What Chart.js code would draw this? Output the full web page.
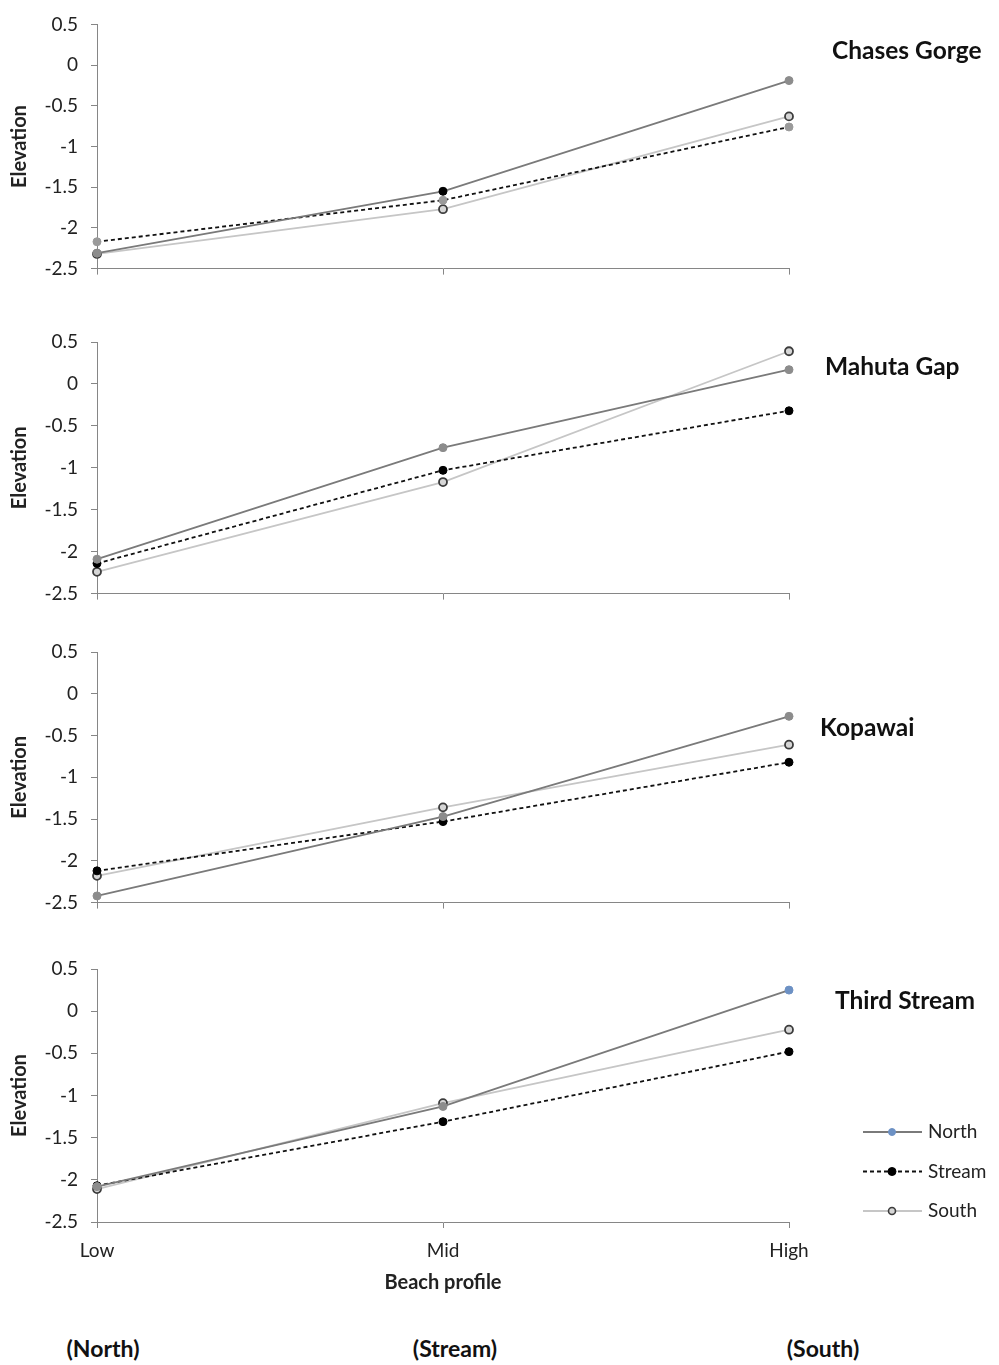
<!DOCTYPE html>
<html><head><meta charset="utf-8">
<script src="https://cdn.jsdelivr.net/npm/chart.js@4"></script>
<style>
html,body{margin:0;padding:0;background:#fff;}
body{width:999px;height:1365px;position:relative;overflow:hidden;font-family:Lato,'Open Sans',sans-serif;}
canvas{position:absolute;left:0;}
.site{position:absolute;font-weight:bold;font-size:24.5px;color:#111;white-space:nowrap;line-height:28px;}
.foot{position:absolute;font-weight:bold;font-size:23px;color:#111;white-space:nowrap;line-height:26px;transform:translateX(-50%);}
</style></head><body>
<script>
// ---------- data ----------
const categories = ['Low', 'Mid', 'High'];
const seriesNames = ['North', 'Stream', 'South'];
const siteNames = ['Chases Gorge', 'Mahuta Gap', 'Kopawai', 'Third Stream'];
const yTickLabels = ['0.5', '0', '-0.5', '-1', '-1.5', '-2', '-2.5'];
const footLabels = ['(North)', '(Stream)', '(South)'];

const chasesNorth  = [-2.31, -1.55, -0.19];
const chasesStream = [-2.17, -1.66, -0.76];
const chasesSouth  = [-2.32, -1.77, -0.63];

const mahutaNorth  = [-2.09, -0.76, 0.17];
const mahutaStream = [-2.14, -1.03, -0.32];
const mahutaSouth  = [-2.24, -1.17, 0.39];

const kopawaiNorth  = [-2.42, -1.47, -0.27];
const kopawaiStream = [-2.12, -1.53, -0.82];
const kopawaiSouth  = [-2.18, -1.36, -0.61];

const thirdNorth  = [-2.08, -1.13, 0.25];
const thirdStream = [-2.07, -1.31, -0.48];
const thirdSouth  = [-2.11, -1.09, -0.22];

const siteSeries = [
  [chasesNorth, chasesStream, chasesSouth],
  [mahutaNorth, mahutaStream, mahutaSouth],
  [kopawaiNorth, kopawaiStream, kopawaiSouth],
  [thirdNorth, thirdStream, thirdSouth]
];

// ---------- layout & style ----------
const FONT = "Lato, 'Open Sans', sans-serif";
const AXIS = '#868686';
const panels = [
  {top: 0,   padTop: 21, height: 293, titleLeft: 832, titleMid: 50},
  {top: 300, padTop: 42, height: 318, titleLeft: 825, titleMid: 366},
  {top: 620, padTop: 32, height: 307, titleLeft: 820, titleMid: 727},
  {top: 940, padTop: 29, height: 359, titleLeft: 835, titleMid: 1000}
];
const seriesStyles = [
  {borderColor: '#7a7a7a', borderDash: [], pointBackgroundColor: '#8c8c8c', pointBorderColor: '#8c8c8c', pointBorderWidth: 1},
  {borderColor: '#111111', borderDash: [4, 3], pointBackgroundColor: '#000000', pointBorderColor: '#000000', pointBorderWidth: 1},
  {borderColor: '#c6c6c6', borderDash: [], pointBackgroundColor: '#d6d6d6', pointBorderColor: '#3c3c3c', pointBorderWidth: 1.8}
];
// per-panel marker colour quirks of the original
const pointColorOverrides = [
  [['#8c8c8c', '#000000', '#8c8c8c'], ['#9a9a9a', '#9a9a9a', '#9a9a9a'], null],
  [null, null, null],
  [null, null, null],
  [['#8c8c8c', '#8c8c8c', '#6d91c4'], null, null]
];
const legendMarkerColors = ['#6d91c4', '#000000', '#d6d6d6'];

const sideLegend = {
  id: 'sideLegend',
  afterDraw(chart, args, opts) {
    if (!opts.show) return;
    const ctx = chart.ctx;
    chart.data.datasets.forEach((ds, i) => {
      const y = opts.y0 + i * opts.gap;
      ctx.save();
      ctx.strokeStyle = ds.borderColor;
      ctx.lineWidth = ds.borderWidth;
      ctx.setLineDash(ds.borderDash || []);
      ctx.beginPath(); ctx.moveTo(opts.x0, y); ctx.lineTo(opts.x1, y); ctx.stroke();
      ctx.setLineDash([]);
      ctx.beginPath(); ctx.arc(opts.mx, y, i === 1 ? 4 : 3.5, 0, Math.PI * 2);
      ctx.fillStyle = legendMarkerColors[i]; ctx.fill();
      ctx.lineWidth = i === 2 ? 1.6 : 1;
      ctx.strokeStyle = i === 0 ? legendMarkerColors[0] : seriesStyles[i].pointBorderColor;
      ctx.stroke();
      ctx.fillStyle = '#222';
      ctx.font = '19px ' + FONT;
      ctx.textBaseline = 'middle';
      ctx.textAlign = 'left';
      ctx.fillText(ds.label, opts.tx, y);
      ctx.restore();
    });
  }
};

panels.forEach((p, pi) => {
  const cv = document.createElement('canvas');
  cv.width = 999; cv.height = p.height;
  cv.style.top = p.top + 'px';
  cv.style.width = '999px'; cv.style.height = p.height + 'px';
  document.body.appendChild(cv);

  const t = document.createElement('div');
  t.className = 'site';
  t.textContent = siteNames[pi];
  t.style.left = p.titleLeft + 'px';
  t.style.top = (p.titleMid - 14) + 'px';
  document.body.appendChild(t);

  const last = pi === panels.length - 1;
  const datasets = seriesNames.map((name, si) => {
    const st = seriesStyles[si];
    const ov = pointColorOverrides[pi][si];
    return {
      label: name,
      data: siteSeries[pi][si],
      borderColor: st.borderColor,
      borderWidth: 1.8,
      borderDash: st.borderDash,
      pointRadius: 4,
      pointBackgroundColor: ov ? ov : st.pointBackgroundColor,
      pointBorderColor: ov && si !== 2 ? ov : st.pointBorderColor,
      pointBorderWidth: st.pointBorderWidth,
      tension: 0,
      fill: false
    };
  });

  new Chart(cv, {
    type: 'line',
    data: {labels: categories, datasets},
    plugins: [sideLegend],
    options: {
      responsive: false,
      animation: false,
      devicePixelRatio: 1,
      layout: {padding: {top: p.padTop, right: 210, bottom: 0, left: 0}},
      plugins: {
        legend: {display: false},
        tooltip: {enabled: false},
        title: {display: false},
        sideLegend: {show: last, x0: 863, x1: 922, mx: 892, tx: 928, y0: 1132 - p.top, gap: 39.5}
      },
      scales: {
        x: {
          offset: false,
          grid: {display: true, drawOnChartArea: false, drawTicks: true, tickLength: 6, color: AXIS},
          border: {display: true, color: AXIS, width: 1},
          ticks: {display: last, color: '#222', padding: 11, font: {family: FONT, size: 19}},
          title: {display: last, text: 'Beach profile', color: '#222', padding: {top: 4, bottom: 4}, font: {family: FONT, size: 20, weight: 'bold'}},
          afterFit(s) { s.height = last ? 77 : 20; }
        },
        y: {
          min: -2.5, max: 0.5,
          grid: {display: true, drawOnChartArea: false, drawTicks: true, tickLength: 6, color: AXIS},
          border: {display: true, color: AXIS, width: 1},
          ticks: {
            stepSize: 0.5, color: '#222', padding: 13, font: {family: FONT, size: 19},
            callback: (v) => {
              const idx = Math.round((0.5 - v) / 0.5);
              return yTickLabels[idx];
            }
          },
          title: {display: true, text: 'Elevation', color: '#222', padding: {top: 8, bottom: 0}, font: {family: FONT, size: 20, weight: 'bold'}},
          afterFit(s) { s.width = 97; }
        }
      }
    }
  });
});

const footX = [103, 455, 823];
footLabels.forEach((txt, i) => {
  const d = document.createElement('div');
  d.className = 'foot';
  d.textContent = txt;
  d.style.left = footX[i] + 'px';
  d.style.top = (1348 - 13) + 'px';
  document.body.appendChild(d);
});
</script>
</body></html>
